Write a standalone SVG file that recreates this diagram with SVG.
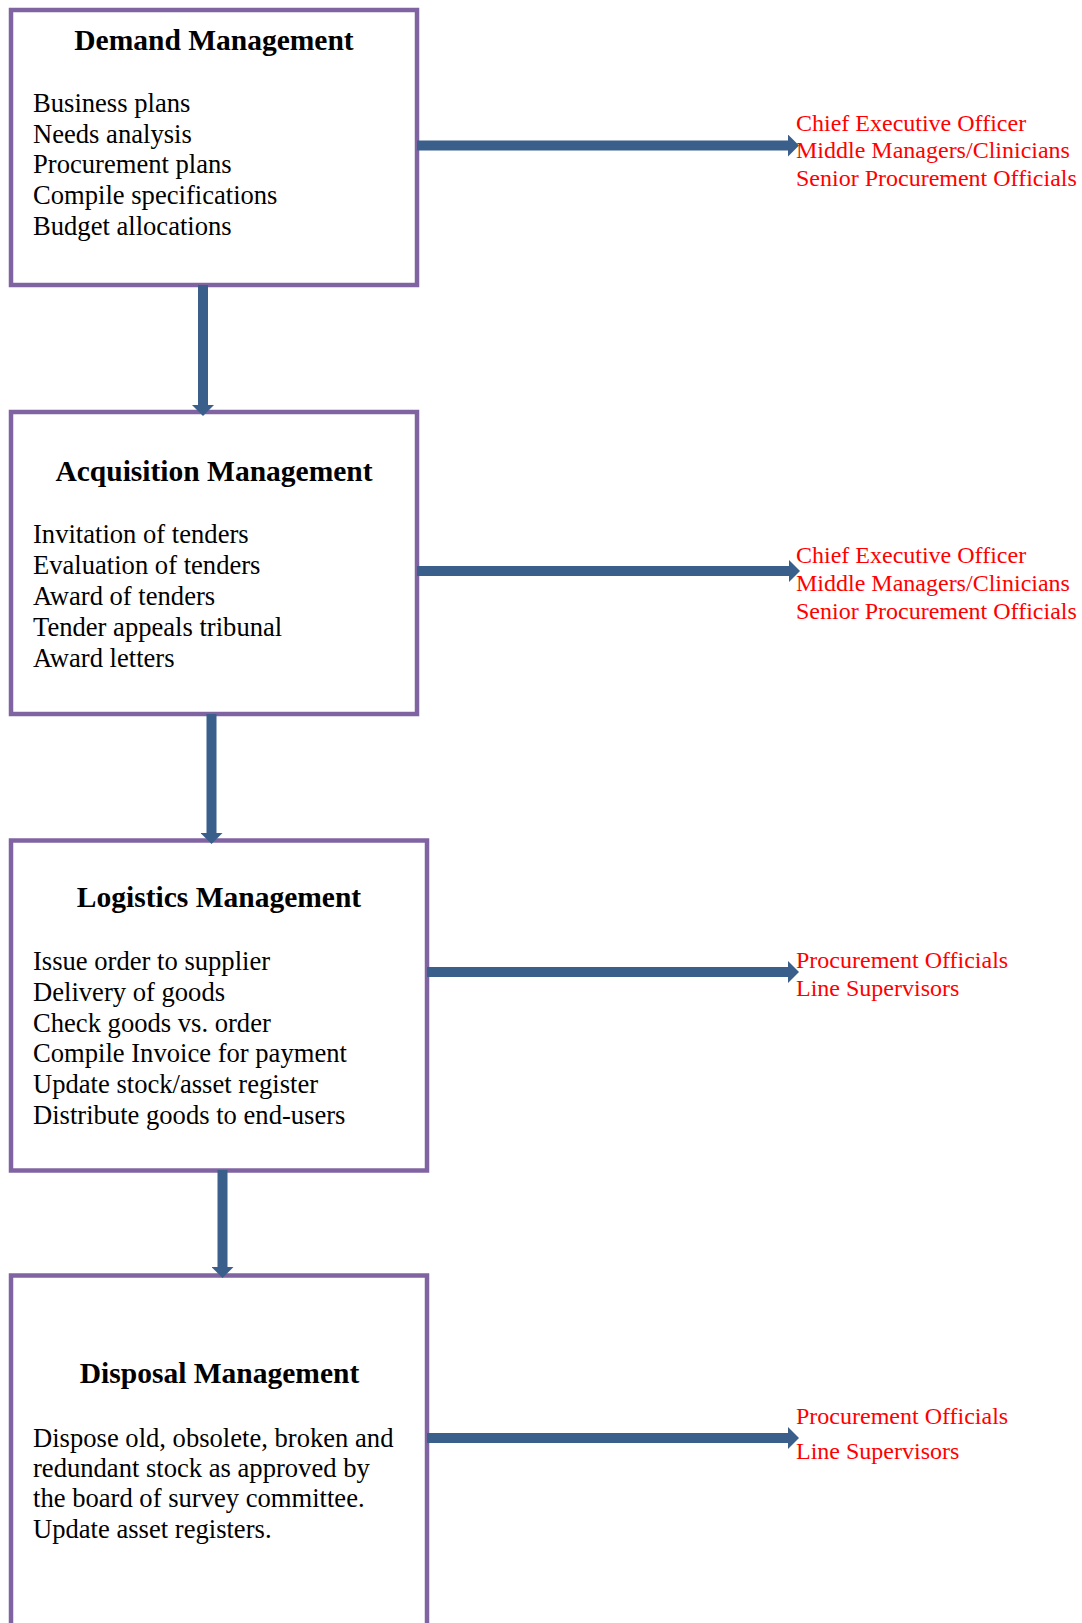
<svg xmlns="http://www.w3.org/2000/svg" width="1082" height="1623" viewBox="0 0 1082 1623">
<style>
.box{fill:#ffffff;stroke:#8064A2;stroke-width:4.5}
.title{font-family:"Liberation Serif","Times New Roman",serif;font-weight:bold;font-size:29.5px;fill:#000;text-anchor:middle}
.body{font-family:"Liberation Serif","Times New Roman",serif;font-size:26.6px;fill:#000}
.red{font-family:"Liberation Serif","Times New Roman",serif;font-size:24px;fill:#FF0000}
.conn{stroke:#3A5F8B;stroke-width:10;fill:none}
</style>
<defs>
<marker id="ah" viewBox="0 0 11 22" refX="0" refY="11" markerWidth="11" markerHeight="22" markerUnits="userSpaceOnUse" orient="auto">
<path d="M0,0 L11,11 L0,22 Z" fill="#3A5F8B"/>
</marker>
</defs>
<rect width="1082" height="1623" fill="#ffffff"/>
<g id="n-demand">
<rect class="box" x="11" y="10" width="406" height="275"/>
<text class="title" x="214" y="50">Demand Management</text>
<text class="body" x="33" y="112">Business plans</text>
<text class="body" x="33" y="143">Needs analysis</text>
<text class="body" x="33" y="173">Procurement plans</text>
<text class="body" x="33" y="204">Compile specifications</text>
<text class="body" x="33" y="235">Budget allocations</text>
</g>
<g id="n-acquisition">
<rect class="box" x="11" y="412" width="406" height="302"/>
<text class="title" x="214" y="481">Acquisition Management</text>
<text class="body" x="33" y="543">Invitation of tenders</text>
<text class="body" x="33" y="574">Evaluation of tenders</text>
<text class="body" x="33" y="605">Award of tenders</text>
<text class="body" x="33" y="636">Tender appeals tribunal</text>
<text class="body" x="33" y="667">Award letters</text>
</g>
<g id="n-logistics">
<rect class="box" x="11" y="840.5" width="416" height="330"/>
<text class="title" x="219" y="907">Logistics Management</text>
<text class="body" x="33" y="970">Issue order to supplier</text>
<text class="body" x="33" y="1001">Delivery of goods</text>
<text class="body" x="33" y="1032">Check goods vs. order</text>
<text class="body" x="33" y="1062">Compile Invoice for payment</text>
<text class="body" x="33" y="1093">Update stock/asset register</text>
<text class="body" x="33" y="1124">Distribute goods to end-users</text>
</g>
<g id="n-disposal">
<rect class="box" x="11" y="1275.5" width="416" height="420"/>
<text class="title" x="219.5" y="1383">Disposal Management</text>
<text class="body" x="33" y="1447">Dispose old, obsolete, broken and</text>
<text class="body" x="33" y="1477">redundant stock as approved by</text>
<text class="body" x="33" y="1507">the board of survey committee.</text>
<text class="body" x="33" y="1538">Update asset registers.</text>
</g>
<g id="n-roles1">
<text class="red" x="796" y="131">Chief Executive Officer</text>
<text class="red" x="796" y="158">Middle Managers/Clinicians</text>
<text class="red" x="796" y="186">Senior Procurement Officials</text>
</g>
<g id="n-roles2">
<text class="red" x="796" y="563">Chief Executive Officer</text>
<text class="red" x="796" y="591">Middle Managers/Clinicians</text>
<text class="red" x="796" y="619">Senior Procurement Officials</text>
</g>
<g id="n-roles3">
<text class="red" x="796" y="968">Procurement Officials</text>
<text class="red" x="796" y="996">Line Supervisors</text>
</g>
<g id="n-roles4">
<text class="red" x="796" y="1424">Procurement Officials</text>
<text class="red" x="796" y="1459">Line Supervisors</text>
</g>
<g id="connectors">
<line class="conn" x1="203" y1="285" x2="203" y2="405" marker-end="url(#ah)"/>
<line class="conn" x1="211.5" y1="714" x2="211.5" y2="833" marker-end="url(#ah)"/>
<line class="conn" x1="222.5" y1="1170" x2="222.5" y2="1267" marker-end="url(#ah)"/>
<line class="conn" x1="417" y1="145.5" x2="788" y2="145.5" marker-end="url(#ah)"/>
<line class="conn" x1="417" y1="571" x2="789" y2="571" marker-end="url(#ah)"/>
<line class="conn" x1="427" y1="972" x2="788" y2="972" marker-end="url(#ah)"/>
<line class="conn" x1="427" y1="1438" x2="788" y2="1438" marker-end="url(#ah)"/>
</g>
</svg>
